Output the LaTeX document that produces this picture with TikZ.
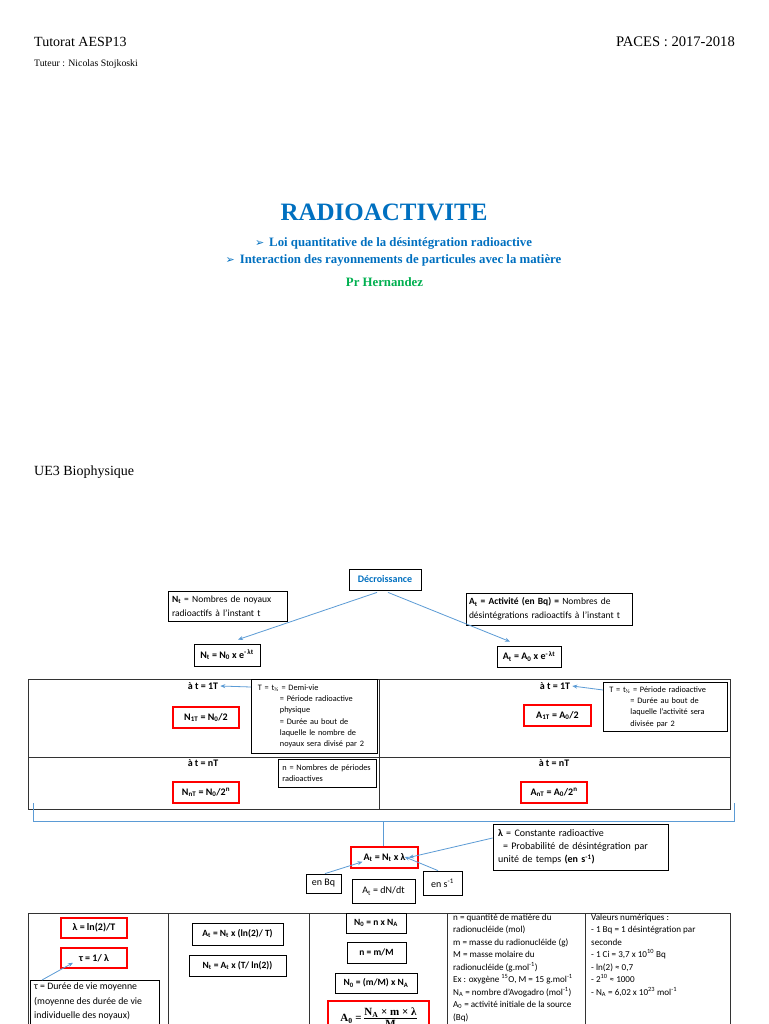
\documentclass[tikz,border=0pt]{standalone}
\usepackage{fontspec}
\setmainfont{Liberation Serif}
\newfontfamily\calfont{Carlito}
\newfontfamily\djvfont{DejaVu Sans}
\usetikzlibrary{arrows.meta}
\definecolor{tblue}{HTML}{0070C0}
\definecolor{ablue}{HTML}{5B9BD5}
\definecolor{tgreen}{HTML}{00B050}
\definecolor{rred}{HTML}{FF0000}
\newcommand\ssub[1]{\textsubscript{#1}}
\newcommand\ssup[1]{\textsuperscript{#1}}
\begin{document}
\begin{tikzpicture}[x=1pt,y=-1pt,
  bx/.style={draw=black, line width=0.8pt, inner sep=0pt, font=\calfont\fontsize{10}{13}\selectfont},
  rbx/.style={draw=rred, line width=1.5pt, inner sep=0pt, font=\calfont\bfseries\fontsize{10}{12}\selectfont},
  fbx/.style={draw=black, line width=0.8pt, inner sep=0pt, font=\calfont\bfseries\fontsize{9.5}{12}\selectfont},
  lab/.style={inner sep=0pt, font=\calfont\bfseries\fontsize{10}{12}\selectfont},
  txt/.style={inner sep=0pt, align=left, anchor=north west},
  arr/.style={draw=ablue, line width=0.8pt, -{Stealth[length=5pt,width=4pt]}},
  bline/.style={draw=ablue, line width=0.8pt},
  tline/.style={draw=black!80, line width=1pt},
  small/.style={font=\calfont\fontsize{8.3}{11.3}\selectfont},
  desc/.style={font=\calfont\fontsize{9.5}{13.5}\selectfont}
]
\path[use as bounding box, fill=white] (0,0) rectangle (768,1024);
\clip (0,0) rectangle (768,1024);

% header
\node[anchor=base west, inner sep=0pt, font=\fontsize{14}{16}\selectfont] (h1) at (34,47) {Tutorat AESP13};
\node[anchor=base east, inner sep=0pt, font=\fontsize{14.6}{16}\selectfont] (h2) at (735,47) {PACES : 2017-2018};
\node[anchor=base west, inner sep=0pt, font=\fontsize{9.8}{11}\selectfont] (h3) at (34,67) {Tuteur : Nicolas Stojkoski};

\node[anchor=base, inner sep=0pt, text=tblue, font=\bfseries\fontsize{25}{30}\selectfont] (title) at (384,221) {RADIOACTIVITE};
\node[anchor=base, inner sep=0pt, text=tblue, font=\bfseries\fontsize{12.8}{14}\selectfont] (b1) at (393.5,247) {{\djvfont\mdseries\fontsize{11}{12}\selectfont ➢}\hspace{5pt}Loi quantitative de la désintégration radioactive};
\node[anchor=base, inner sep=0pt, text=tblue, font=\bfseries\fontsize{12.8}{14}\selectfont] (b2) at (393.5,263) {{\djvfont\mdseries\fontsize{11}{12}\selectfont ➢}\hspace{5pt}Interaction des rayonnements de particules avec la matière};
\node[anchor=base, inner sep=0pt, text=tgreen, font=\bfseries\fontsize{12.8}{14}\selectfont] (prof) at (384.5,286) {Pr Hernandez};

\node[anchor=base west, inner sep=0pt, font=\fontsize{14}{16}\selectfont] (ue) at (34,475) {UE3 Biophysique};

% top part
\node[bx, minimum width=72, minimum height=21, text=tblue, font=\calfont\bfseries\fontsize{10}{12}\selectfont] (dec) at (385,579.5) {Décroissance};
\node[bx, desc, minimum width=119, minimum height=30, text width=111, align=left, inner xsep=4pt] (ntd) at (227.5,606) {\textbf{N\ssub{t}} = Nombres de noyaux\\radioactifs à l’instant t};
\node[bx, desc, minimum width=166, minimum height=32, text width=160, align=left, inner xsep=3pt] (atd) at (549,609) {\textbf{A\ssub{t} = Activité (en Bq) =} Nombres de\\désintégrations radioactifs à l’instant t};
\node[fbx, minimum width=66, minimum height=22, font=\calfont\bfseries\fontsize{10}{12}\selectfont] (ntf) at (227,655) {N\ssub{t} = N\ssub{0} x e\ssup{-\,λt}};
\node[fbx, minimum width=64, minimum height=21, font=\calfont\bfseries\fontsize{10}{12}\selectfont] (atf) at (529,656.5) {A\ssub{t} = A\ssub{0} x e\ssup{-\,λt}};
\draw[arr] ([xshift=-8pt,yshift=-2pt]dec.south) -- ([xshift=11pt,yshift=4pt]ntf.north);
\draw[arr] ([xshift=3pt,yshift=-2pt]dec.south) -- ([xshift=-19pt,yshift=4pt]atf.north);

% first table
\draw[tline] (28,679) rectangle (730,809);
\draw[tline] (379,679) -- (379,809);
\draw[tline] (28,757) -- (730,757);

\node[lab] (t1L) at (203,686) {à t = 1T};
\node[lab] (t1R) at (555,686) {à t = 1T};
\node[lab] (tnL) at (203,763) {à t = nT};
\node[lab] (tnR) at (554,763) {à t = nT};

\node[bx, small, anchor=north west, minimum width=126, minimum height=74, text width=113, align=left, inner xsep=6.5pt] (explL) at (251,679)
 {T = t\ssub{½} = Demi-vie\\\hspace*{22pt}= Période radioactive\\\hspace*{22pt}physique\\\hspace*{22pt}= Durée au bout de\\\hspace*{22pt}laquelle le nombre de\\\hspace*{22pt}noyaux sera divisé par 2};
\node[bx, small, anchor=north west, minimum width=124, minimum height=49, text width=112, align=left, inner xsep=6pt] (explR) at (603,682)
 {T = t\ssub{½} = Période radioactive\\\hspace*{21pt}= Durée au bout de\\\hspace*{21pt}laquelle l’activité sera\\\hspace*{21pt}divisée par 2};
\node[bx, small, anchor=north west, minimum width=98, minimum height=28, text width=90, align=left, inner xsep=4pt] (nbox) at (278,759)
 {n = Nombres de périodes\\radioactives};
\draw[arr] ([yshift=-8pt]explL.north west) -- ([xshift=2pt]t1L.east);
\draw[arr] ([yshift=-8pt]explR.north west) -- ([xshift=2pt]t1R.east);

\node[rbx, minimum width=66, minimum height=21] (n1t) at (206,717.5) {N\ssub{1T} = N\ssub{0}/2};
\node[rbx, minimum width=67, minimum height=21] (a1t) at (557.5,715.5) {A\ssub{1T} = A\ssub{0}/2};
\node[rbx, minimum width=66, minimum height=21] (nnt) at (206,792.5) {N\ssub{nT} = N\ssub{0}/2\ssup{n}};
\node[rbx, minimum width=66, minimum height=21] (ant) at (554,792.5) {A\ssub{nT} = A\ssub{0}/2\ssup{n}};

% bracket
\coordinate (stem) at (383,821);
\draw[bline] (33,803) -- (33,821) -- (734,821) -- (734,803);
\node[rbx, minimum width=67, minimum height=21] (atl) at (384.5,857.5) {A\ssub{t} = N\ssub{t} x λ};
\draw[bline] (stem) -- (stem |- atl.north);

\node[bx, minimum width=175, minimum height=46, text width=165, align=left, inner xsep=5pt] (lam) at (580.5,847)
 {\textbf{λ} = Constante radioactive\\\hspace*{5pt}= Probabilité de désintégration par\\unité de temps \textbf{(en s\ssup{-1})}};
\node[bx, minimum width=35, minimum height=19] (enbq) at (323.5,883.5) {en Bq};
\node[bx, minimum width=63, minimum height=24] (dndt) at (383.5,891) {A\ssub{t} = dN/dt};
\node[bx, minimum width=39, minimum height=24] (ens) at (442.5,883) {en s\ssup{-1}};
\draw[arr] ([yshift=9pt]lam.west) -- ([xshift=-10pt]atl.east);
\draw[arr] ([xshift=1.5pt]enbq.north) -- ([xshift=-22pt,yshift=7pt]atl.south);
\draw[arr] ([xshift=-4.5pt]ens.north) -- ([xshift=20pt,yshift=12pt]atl.south);

% bottom table
\draw[tline] (28,913) rectangle (730,1040);
\draw[tline] (168,913) -- (168,1040);
\draw[tline] (309,913) -- (309,1040);
\draw[tline] (447,913) -- (447,1040);
\draw[tline] (585,913) -- (585,1040);

\node[rbx, minimum width=66, minimum height=20] (lamf) at (94,928) {λ = ln(2)/T};
\node[rbx, minimum width=66, minimum height=20] (tauf) at (94,958) {τ = 1/ λ};
\node[bx, anchor=north west, minimum width=129, minimum height=62] (taud) at (30,980) {};
\node[txt, font=\calfont\fontsize{9.8}{14.5}\selectfont] (taut) at (34,982.5) {τ = Durée de vie moyenne\\(moyenne des durée de vie\\individuelle des noyaux)};
\draw[arr] ([xshift=12pt]taud.north west) -- ([xshift=-21pt,yshift=6pt]tauf.south);

\node[fbx, minimum width=91, minimum height=22] (atln) at (237.5,934) {A\ssub{t} = N\ssub{t} x (ln(2)/ T)};
\node[fbx, minimum width=97, minimum height=21] (ntln) at (237.5,965.5) {N\ssub{t} = A\ssub{t} x (T/ ln(2))};

\node[fbx, minimum width=60, minimum height=20] (n0a) at (376,923) {N\ssub{0} = n x N\ssub{A}};
\node[fbx, minimum width=59, minimum height=21] (nmm) at (376.5,952.5) {n = m/M};
\node[fbx, minimum width=82, minimum height=20] (n0b) at (376,983) {N\ssub{0} = (m/M) x N\ssub{A}};
\node[rbx, minimum width=101, minimum height=36, font=\bfseries\fontsize{11}{12}\selectfont] (a0) at (378.5,1019) {A\ssub{0} = \begin{tabular}{@{}c@{}}N\ssub{A} × m × λ\\[-1pt]\hline M\end{tabular}};

\node[txt, font=\calfont\fontsize{9.1}{12.5}\selectfont] (col4) at (453,913.5) {n = quantité de matière du\\radionucléide (mol)\\m = masse du radionucléide (g)\\M = masse molaire du\\radionucléide (g.mol\ssup{-1})\\Ex : oxygène \ssup{15}O, M = 15 g.mol\ssup{-1}\\N\ssub{A} = nombre d’Avogadro (mol\ssup{-1})\\A\ssub{0} = activité initiale de la source\\(Bq)};
\node[txt, font=\calfont\fontsize{9.1}{12.5}\selectfont] (col5) at (591,913.5) {Valeurs numériques :\\- 1 Bq = 1 désintégration par\\seconde\\- 1 Ci = 3,7 x 10\ssup{10} Bq\\- ln(2) ≈ 0,7\\- 2\ssup{10} ≈ 1000\\- N\ssub{A} = 6,02 x 10\ssup{23} mol\ssup{-1}};
\end{tikzpicture}
\end{document}
